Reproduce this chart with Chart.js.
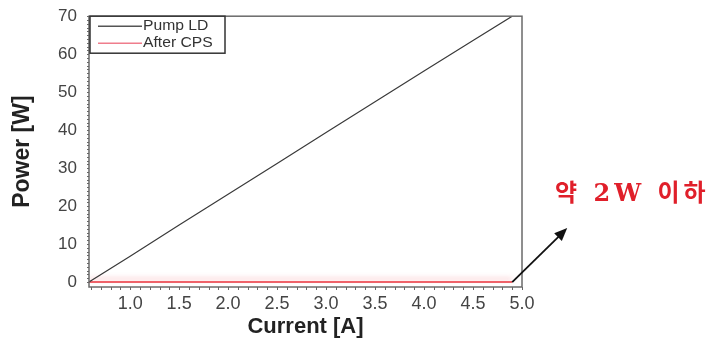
<!DOCTYPE html>
<html>
<head>
<meta charset="utf-8">
<script src="https://cdn.jsdelivr.net/npm/chart.js@4/dist/chart.umd.min.js"></script>
<style>
  html, body { margin: 0; padding: 0; background: #fff; }
  #wrap { width: 720px; height: 348px; position: relative; }
</style>
</head>
<body>
<div id="wrap"><canvas id="powerChart"></canvas></div>
<script>
// Current [A] readings and output power [W]
const pumpCurrent = [0.58, 1.0, 1.5, 2.0, 2.5, 3.0, 3.5, 4.0, 4.5, 4.9];
const pumpPower   = [0, 6.8, 15.0, 23.1, 31.2, 39.4, 47.5, 55.6, 63.6, 70];
const cpsCurrent  = [0.58, 1.0, 1.5, 2.0, 2.5, 3.0, 3.5, 4.0, 4.5, 4.9];
const cpsPower    = [0, 0, 0, 0, 0, 0, 0, 0, 0, 0];

// tick labels
const xTicks = [1.0, 1.5, 2.0, 2.5, 3.0, 3.5, 4.0, 4.5, 5.0];
const yTicks = [0, 10, 20, 30, 40, 50, 60, 70];

const seriesNames = ['Pump LD', 'After CPS'];
const noteText = '약 2W 이하';

const FONT = '"Liberation Sans", Arial, sans-serif';
const toPts = (xs, ys) => xs.map((x, i) => ({ x: x, y: ys[i] }));

// frame, minor ticks, legend box, arrow + note
const extras = {
  id: 'extras',
  beforeDatasetDraw(chart, args) {
    if (args.index === 1) {
      chart.ctx.save();
      chart.ctx.shadowColor = 'rgba(240,140,150,0.7)';
      chart.ctx.shadowBlur = 5;
      chart.ctx.shadowOffsetY = -3;
    }
  },
  afterDatasetDraw(chart, args) {
    if (args.index === 1) chart.ctx.restore();
  },
  afterDraw(chart) {
    const ctx = chart.ctx;
    const a = chart.chartArea;
    const xs = chart.scales.x, ys = chart.scales.y;
    ctx.save();

    // plot frame
    ctx.strokeStyle = '#6a6a6a';
    ctx.lineWidth = 1.5;
    ctx.strokeRect(a.left, a.top, a.right - a.left, a.bottom - a.top);

    // minor ticks
    ctx.strokeStyle = '#666';
    ctx.lineWidth = 1;
    ctx.beginPath();
    for (let v = 0.6; v <= 5.0001; v += 0.1) {
      const px = Math.round(xs.getPixelForValue(v)) + 0.5;
      ctx.moveTo(px, a.bottom); ctx.lineTo(px, a.bottom + 3);
    }
    for (let v = 0; v <= 70.001; v += 1) {
      const py = Math.round(ys.getPixelForValue(v)) + 0.5;
      ctx.moveTo(a.left, py); ctx.lineTo(a.left - 2, py);
    }
    ctx.stroke();

    // legend box
    const lx = a.left + 1, ly = a.top;
    ctx.fillStyle = '#fff';
    ctx.fillRect(lx, ly, 135, 37);
    ctx.strokeStyle = '#333';
    ctx.lineWidth = 1.5;
    ctx.strokeRect(lx, ly, 135, 37);
    const cols = ['#555', '#ef7d8c'];
    ctx.font = '14px ' + FONT;
    ctx.textBaseline = 'middle';
    ctx.textAlign = 'left';
    seriesNames.forEach((n, i) => {
      const yy = ly + 10 + i * 17;
      ctx.strokeStyle = cols[i];
      ctx.lineWidth = 1.5;
      ctx.beginPath();
      ctx.moveTo(lx + 8, yy); ctx.lineTo(lx + 52, yy);
      ctx.stroke();
      ctx.fillStyle = '#333';
      ctx.save();
      ctx.translate(lx + 53, yy);
      ctx.scale(1.12, 1);
      ctx.fillText(n, 0, 0);
      ctx.restore();
    });

    // arrow from end of the CPS line
    const sx = xs.getPixelForValue(cpsCurrent[cpsCurrent.length - 1]);
    const sy = ys.getPixelForValue(cpsPower[cpsPower.length - 1]);
    const ex = sx + 55, ey = sy - 54;
    ctx.strokeStyle = '#111';
    ctx.fillStyle = '#111';
    ctx.lineWidth = 1.8;
    ctx.beginPath();
    ctx.moveTo(sx, sy); ctx.lineTo(ex - 6, ey + 6);
    ctx.stroke();
    const ang = Math.atan2(ey - sy, ex - sx);
    ctx.beginPath();
    ctx.moveTo(ex, ey);
    ctx.lineTo(ex - 14 * Math.cos(ang - 0.4), ey - 14 * Math.sin(ang - 0.4));
    ctx.lineTo(ex - 14 * Math.cos(ang + 0.4), ey - 14 * Math.sin(ang + 0.4));
    ctx.closePath();
    ctx.fill();

    // note text
    ctx.fillStyle = '#e01f2a';
    ctx.font = 'bold 24px "DejaVu Serif", "Noto Sans CJK KR", serif';
    ctx.letterSpacing = '4px';
    ctx.textBaseline = 'middle';
    ctx.fillText(noteText, a.right + 33, sy - 87);
    ctx.restore();
  }
};

const ctx = document.getElementById('powerChart').getContext('2d');
const powerChart = new Chart(ctx, {
  type: 'line',
  data: {
    datasets: [{
      label: seriesNames[0],
      data: toPts(pumpCurrent, pumpPower),
      borderColor: '#3a3a3a',
      borderWidth: 1.2,
      pointRadius: 0,
      tension: 0
    }, {
      label: seriesNames[1],
      data: toPts(cpsCurrent, cpsPower),
      borderColor: '#e8303a',
      borderWidth: 1.5,
      pointRadius: 0,
      tension: 0
    }]
  },
  options: {
    responsive: true,
    maintainAspectRatio: false,
    animation: false,
    layout: { padding: { top: 16, right: 198, left: 0, bottom: 0 } },
    plugins: {
      legend: { display: false },
      tooltip: { enabled: false }
    },
    scales: {
      x: {
        type: 'linear',
        min: 0.58,
        max: 5.0,
        afterBuildTicks: s => { s.ticks = xTicks.map(v => ({ value: v })); },
        afterFit: s => { s.height = 61; },
        grid: { display: false, drawTicks: true, tickLength: 5, tickColor: '#555' },
        border: { display: false },
        ticks: {
          padding: 1,
          color: '#444',
          font: { family: FONT, size: 18 },
          callback: v => Number(v).toFixed(1),
          maxRotation: 0
        },
        title: {
          display: true,
          text: 'Current [A]',
          color: '#222',
          font: { family: FONT, size: 22, weight: 'bold' },
          padding: { top: 0, bottom: 8 }
        }
      },
      y: {
        type: 'linear',
        min: -1.3,
        max: 70,
        afterBuildTicks: s => { s.ticks = yTicks.map(v => ({ value: v })); },
        afterFit: s => { s.width = 89; },
        grid: { display: false, drawTicks: true, tickLength: 6, tickColor: '#555' },
        border: { display: false },
        ticks: {
          padding: 6,
          color: '#444',
          font: { family: FONT, size: 17 }
        },
        title: {
          display: true,
          text: 'Power [W]',
          color: '#222',
          font: { family: FONT, size: 23, weight: 'bold' },
          padding: { top: 9, bottom: 0 }
        }
      }
    }
  },
  plugins: [extras]
});
</script>
</body>
</html>
